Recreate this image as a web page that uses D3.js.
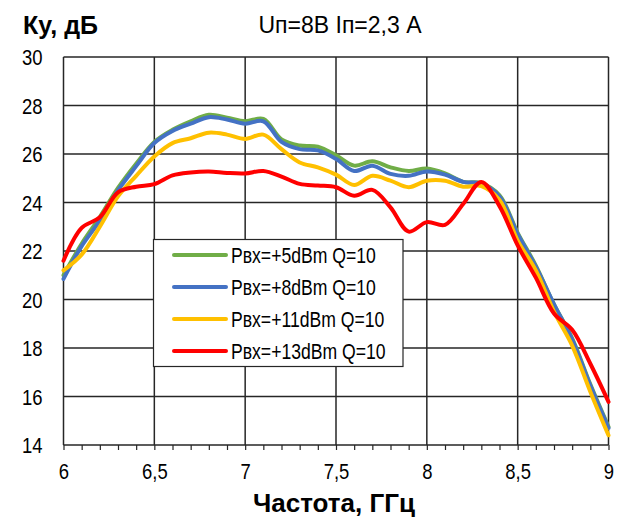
<!DOCTYPE html>
<html>
<head>
<meta charset="utf-8">
<script src="https://cdn.jsdelivr.net/npm/d3@7"></script>
<style>
  html, body { margin: 0; padding: 0; background: #fff; }
  svg { display: block; }
  text { font-family: "Liberation Sans Narrow", "Arial Narrow", "Liberation Sans", Arial, sans-serif; fill: #000; }
</style>
</head>
<body>
<svg id="chart" width="619" height="518"></svg>
<script>
// Frequency grid, GHz
const freq = [6.0, 6.1, 6.2, 6.3, 6.4, 6.5, 6.6, 6.7, 6.8, 6.9,
              7.0, 7.1, 7.2, 7.3, 7.4, 7.5, 7.6, 7.7, 7.8, 7.9,
              8.0, 8.1, 8.2, 8.3, 8.4, 8.5, 8.6, 8.7, 8.8, 8.9, 9.0];

// Gain, dB, for each input power
const gainP5 = [21.0, 22.3, 23.4, 24.6, 25.6, 26.5, 27.0, 27.35, 27.62, 27.5,
                27.35, 27.45, 26.6, 26.35, 26.3, 25.95, 25.52, 25.7, 25.45, 25.3,
                25.4, 25.2, 24.85, 24.8, 24.3, 22.75, 21.4, 19.8, 18.4, 16.5, 14.75];
const gainP8 = [20.85, 22.2, 23.25, 24.5, 25.5, 26.45, 26.95, 27.25, 27.52, 27.42,
                27.25, 27.35, 26.5, 26.2, 26.15, 25.8, 25.3, 25.52, 25.18, 25.1,
                25.28, 25.15, 24.85, 24.78, 24.25, 22.7, 21.35, 19.8, 18.35, 16.45, 14.7];
const gainP11 = [21.2, 21.85, 23.0, 24.25, 25.1, 25.9, 26.45, 26.65, 26.88, 26.8,
                 26.62, 26.8, 26.2, 25.65, 25.45, 25.15, 24.72, 25.1, 24.9, 24.63,
                 24.9, 24.9, 24.65, 24.68, 24.1, 22.43, 21.2, 19.5, 18.1, 16.2, 14.4];
const gainP13 = [21.6, 22.95, 23.39, 24.42, 24.65, 24.76, 25.12, 25.24, 25.28, 25.22,
                 25.2, 25.3, 25.07, 24.77, 24.7, 24.63, 24.28, 24.52, 23.8, 22.8,
                 23.19, 23.08, 23.94, 24.85, 23.85, 22.23, 20.9, 19.42, 18.75, 17.35, 15.78];

const seriesNames = ["Pвх=+5dBm Q=10", "Pвх=+8dBm Q=10", "Pвх=+11dBm Q=10", "Pвх=+13dBm Q=10"];
const seriesColors = ["#70ad47", "#4472c4", "#ffc000", "#ff0000"];
const seriesValues = [gainP5, gainP8, gainP11, gainP13];

const xTicks = [6, 6.5, 7, 7.5, 8, 8.5, 9];
const xTickLabels = ["6", "6,5", "7", "7,5", "8", "8,5", "9"];
const yTicks = [14, 16, 18, 20, 22, 24, 26, 28, 30];

const svg = d3.select("#chart");
const plot = { left: 63.5, right: 608.5, top: 57, bottom: 445 };

const x = d3.scaleLinear().domain([6, 9]).range([plot.left, plot.right]);
const y = d3.scaleLinear().domain([14, 30]).range([plot.bottom, plot.top]);

const gridColor = "#262626";
const narrow = 0.84;   // horizontal squeeze giving the condensed face

// Grid lines
const grid = svg.append("g").attr("stroke", gridColor).attr("stroke-width", 1.5);
grid.selectAll("line.v").data(xTicks).join("line")
  .attr("x1", d => x(d)).attr("x2", d => x(d))
  .attr("y1", plot.top).attr("y2", plot.bottom);
grid.selectAll("line.h").data(yTicks).join("line")
  .attr("y1", d => y(d)).attr("y2", d => y(d))
  .attr("x1", plot.left).attr("x2", plot.right);

// X axis with minor ticks every 0.1 GHz
const xAxis = d3.axisBottom(x).tickValues(d3.range(60, 91).map(d => d / 10))
  .tickSize(5).tickFormat("");
const gx = svg.append("g").attr("transform", `translate(0,${plot.bottom})`).call(xAxis);
gx.select(".domain").remove();
gx.selectAll(".tick line").attr("stroke", gridColor).attr("stroke-width", 1.2);

const xLabels = d3.axisBottom(x).tickValues(xTicks).tickSize(0)
  .tickFormat((d, i) => xTickLabels[i]);
const gxl = svg.append("g").attr("transform", `translate(0,${plot.bottom})`).call(xLabels);
gxl.select(".domain").remove();
gxl.selectAll(".tick text").attr("dy", 0).attr("y", 34)
  .attr("transform", `scale(${narrow},1)`)
  .style("font-size", "22px").style("font-family", null);

// Y axis labels
const yAxis = d3.axisLeft(y).tickValues(yTicks).tickSize(0).tickFormat(d3.format("d"));
const gy = svg.append("g").attr("transform", `translate(${plot.left},0)`).call(yAxis);
gy.select(".domain").remove();
gy.selectAll(".tick text").attr("x", -21 / narrow).attr("dy", "0.36em")
  .attr("transform", `scale(${narrow},1)`)
  .style("font-size", "22px").style("font-family", null);

// Curves
const line = d3.line()
  .x((d, i) => x(freq[i]))
  .y(d => y(d))
  .curve(d3.curveCatmullRom.alpha(0.5));

svg.append("g").selectAll("path").data(seriesValues).join("path")
  .attr("d", d => line(d))
  .attr("fill", "none")
  .attr("stroke", (d, i) => seriesColors[i])
  .attr("stroke-width", 4)
  .attr("stroke-linejoin", "round")
  .attr("stroke-linecap", "round");

// Legend
const legend = svg.append("g");
legend.append("rect")
  .attr("x", 153.5).attr("y", 239.5).attr("width", 249.5).attr("height", 127)
  .attr("fill", "#fff").attr("stroke", gridColor).attr("stroke-width", 1.2);
const items = legend.selectAll("g.item").data(seriesNames).join("g")
  .attr("transform", (d, i) => `translate(0,${255 + i * 32})`);
items.append("line")
  .attr("x1", 174).attr("x2", 226).attr("y1", 0).attr("y2", 0)
  .attr("stroke", (d, i) => seriesColors[i]).attr("stroke-width", 4)
  .attr("stroke-linecap", "round");
items.append("g").attr("transform", "translate(231,0)")
  .append("text")
  .attr("transform", "scale(0.8,1)")
  .attr("dy", "0.36em")
  .style("font-size", "22px")
  .text(d => d);

// Titles
svg.append("text").attr("x", 23).attr("y", 34)
  .style("font-size", "25px").style("font-weight", "bold").text("Ку, дБ");
svg.append("text").attr("x", 340).attr("y", 33).attr("text-anchor", "middle")
  .style("font-size", "23px").text("Uп=8В Iп=2,3 А");
svg.append("text").attr("x", 334).attr("y", 512).attr("text-anchor", "middle")
  .style("font-size", "26px").style("font-weight", "bold").text("Частота, ГГц");
</script>
</body>
</html>
